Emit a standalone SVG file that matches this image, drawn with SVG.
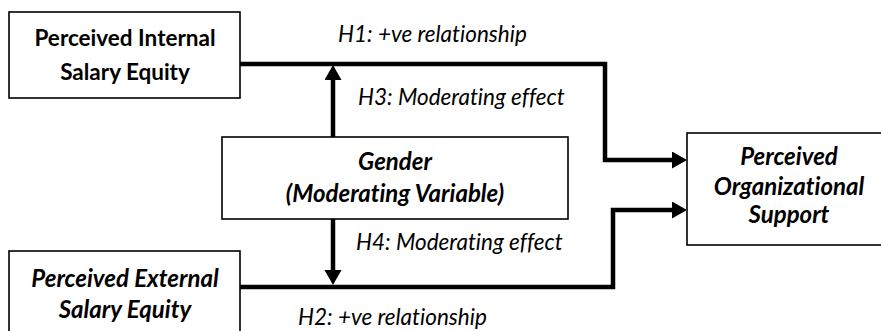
<svg xmlns="http://www.w3.org/2000/svg" width="881" height="331" viewBox="0 0 881 331">
<style>
.box{fill:#fff;stroke:#000;stroke-width:1.6}
.nt{font-family:Lato,"Open Sans","Liberation Sans",sans-serif;font-size:22.5px;font-weight:bold;fill:#000;text-anchor:middle;font-variant-ligatures:none}
.it{font-style:italic;font-size:24px}
.lbl{font-family:Lato,"Open Sans","Liberation Sans",sans-serif;font-size:22.5px;font-style:italic;fill:#000;font-variant-ligatures:none}
.con{fill:none;stroke:#000;stroke-width:4.5;stroke-linejoin:miter}
</style>
<defs>
<marker id="ah" markerUnits="userSpaceOnUse" markerWidth="16" markerHeight="18" refX="1" refY="8.5" orient="auto">
<path d="M0,0 L15,8.5 L0,17 z" fill="#000"/>
</marker>
</defs>
<g id="node-internal">
<rect class="box" x="9" y="12" width="231" height="86"/>
<text class="nt" x="125" y="46">Perceived Internal</text>
<text class="nt" x="125" y="80">Salary Equity</text>
</g>
<g id="node-gender">
<rect class="box" x="222" y="137" width="346" height="82"/>
<text class="nt it" x="395" y="170">Gender</text>
<text class="nt it" x="395" y="202">(Moderating Variable)</text>
</g>
<g id="node-pos">
<rect class="box" x="687" y="133" width="210" height="112"/>
<text class="nt it" x="789" y="165">Perceived</text>
<text class="nt it" x="789" y="195">Organizational</text>
<text class="nt it" x="789" y="223">Support</text>
</g>
<g id="node-external">
<rect class="box" x="9" y="251" width="231" height="100"/>
<text class="nt it" x="125" y="287">Perceived External</text>
<text class="nt it" x="125" y="318">Salary Equity</text>
</g>
<g id="connectors">
<path class="con" d="M240,64 H605 V160 H673" marker-end="url(#ah)"/>
<path class="con" d="M240,287 H613 V210 H673" marker-end="url(#ah)"/>
<path class="con" d="M333,137 V79" marker-end="url(#ah)"/>
<path class="con" d="M333,219 V271" marker-end="url(#ah)"/>
<text class="lbl" x="338" y="42">H1: +ve relationship</text>
<text class="lbl" x="358" y="105">H3: Moderating effect</text>
<text class="lbl" x="356" y="250">H4: Moderating effect</text>
<text class="lbl" x="298" y="325">H2: +ve relationship</text>
</g>
</svg>
